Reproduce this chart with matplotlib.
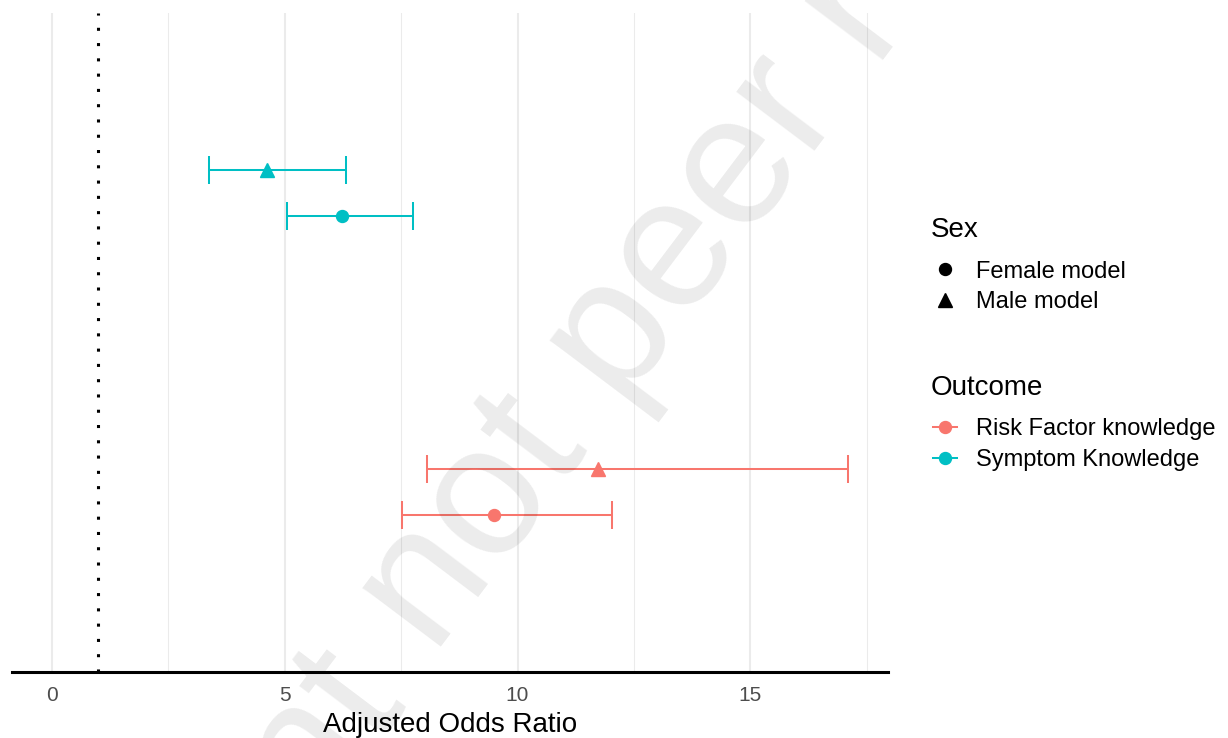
import numpy as np
import matplotlib
matplotlib.use("Agg")
import matplotlib.pyplot as plt
from matplotlib.lines import Line2D

plt.rcParams['font.family'] = ['Liberation Sans', 'DejaVu Sans']

# values
outcomes = ["Risk Factor knowledge", "Symptom Knowledge"]
outcome_colors = ["#F8766D", "#00BFC4"]
sexes = ["Female model", "Male model"]
sex_markers = ["o", "^"]

female_or = [9.5, 6.24]
female_lo = [7.53, 5.04]
female_hi = [12.02, 7.75]
male_or = [11.72, 4.61]
male_lo = [8.05, 3.37]
male_hi = [17.10, 6.31]

W, H = 1228, 738
fig = plt.figure(figsize=(W / 100, H / 100), dpi=100)
ax = fig.add_axes([12 / W, 1 - 672 / H, 876 / W, (672 - 13) / H])

dodge = 0.077
est = [female_or, male_or]
lo = [female_lo, male_lo]
hi = [female_hi, male_hi]
offs = [-dodge, dodge]
msz = [8.6, 10]

for i, col in enumerate(outcome_colors):
    for s in range(2):
        x = est[s][i]
        y = i + 1 + offs[s]
        ax.errorbar([x], [y], xerr=[[x - lo[s][i]], [hi[s][i] - x]],
                    fmt=sex_markers[s], color=col, ms=msz[s], mec=col,
                    capsize=10.4, elinewidth=1.45, capthick=1.45, zorder=3)

ax.axvline(1, color="black", ls=(0, (1, 4)), lw=2.2, zorder=2)

# ggplot-like 5% expansion
xmin, xmax = 0, max(male_hi + female_hi)
pad = 0.05 * (xmax - xmin)
ax.set_xlim(xmin - pad, xmax + pad)
ax.set_ylim(0.4, 2.6)

ax.set_xticks([0, 5, 10, 15])
ax.set_xticks([2.5, 7.5, 12.5, 17.5], minor=True)
ax.set_yticks([])
ax.grid(True, which="major", axis="x", color="#EBEBEB", lw=1.45)
ax.grid(True, which="minor", axis="x", color="#EBEBEB", lw=0.75)
ax.set_axisbelow(True)
ax.tick_params(axis="x", which="both", length=0, pad=10, labelsize=15,
               labelcolor="#4D4D4D")
for side in ["top", "left", "right"]:
    ax.spines[side].set_visible(False)
ax.spines["bottom"].set_linewidth(2.2)
ax.spines["bottom"].set_color("black")
ax.set_xlabel("Adjusted Odds Ratio", fontsize=20, labelpad=5)

# legends
fig.text(931 / W, 1 - 237 / H, "Sex", fontsize=20, va="baseline", ha="left")
sex_handles = [Line2D([], [], marker=m, color="black", ls="none", ms=z)
               for m, z in zip(sex_markers, msz)]
leg1 = fig.legend(handles=sex_handles, labels=sexes, loc="upper left",
                  bbox_to_anchor=(933 / W, 1 - 260.5 / H), frameon=False,
                  fontsize=17, handlelength=1.0, handletextpad=0.83,
                  labelspacing=0.36, borderpad=0, borderaxespad=0)

fig.text(931 / W, 1 - 395 / H, "Outcome", fontsize=20, va="baseline", ha="left")
out_handles = [Line2D([], [], marker="o", color=c, lw=1.45, ms=8.6)
               for c in outcome_colors]
leg2 = fig.legend(handles=out_handles, labels=outcomes, loc="upper left",
                  bbox_to_anchor=(933 / W, 1 - 418 / H), frameon=False,
                  fontsize=17, handlelength=1.0, handletextpad=0.83,
                  labelspacing=0.38, borderpad=0, borderaxespad=0)

# diagonal preprint watermark
px, py = 434, 657
ang = 53
fs = 134
fig.text(px / W, 1 - py / H, "not peer reviewed", fontsize=fs, rotation=ang,
         rotation_mode="anchor", ha="left", va="baseline", color="black",
         alpha=0.08, zorder=10)
sp = 50
ex = px - sp * np.cos(np.radians(ang))
ey = py + sp * np.sin(np.radians(ang))
fig.text(ex / W, 1 - ey / H, "preprint", fontsize=fs, rotation=ang,
         rotation_mode="anchor", ha="right", va="baseline", color="black",
         alpha=0.08, zorder=10)

fig.savefig("out.png", dpi=100)
